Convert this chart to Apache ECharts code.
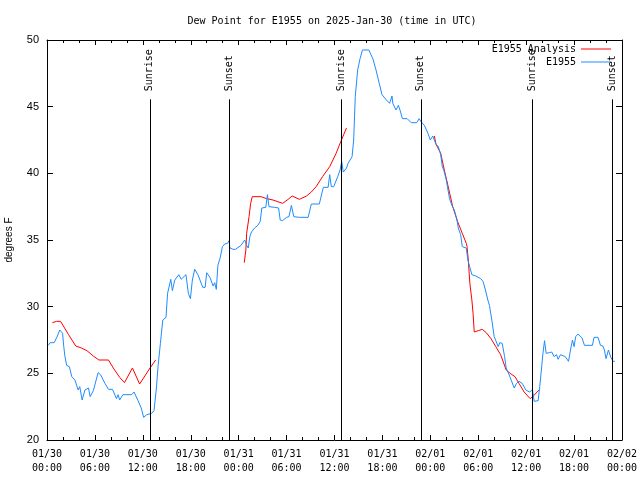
<!DOCTYPE html>
<html><head><meta charset="utf-8">
<script src="https://cdn.jsdelivr.net/npm/echarts@6/dist/echarts.min.js"></script>
<style>html,body{margin:0;padding:0;background:#fff}#c{width:640px;height:480px}</style>
</head><body><div id="c"></div>
<script>
const START = Date.UTC(2025, 0, 30, 0, 0);
const HOUR = 3600000;
const TITLE = 'Dew Point for E1955 on 2025-Jan-30 (time in UTC)';

// Observations (hours after 2025-01-30 00:00 UTC, dew point in F)
const obsHours = [0.15,0.4,0.6,0.9,1.3,1.6,1.95,2.1,2.25,2.46,2.8,3.1,3.5,3.9,4.1,4.4,4.75,5.2,5.4,5.8,6.4,6.7,7.25,7.7,8.2,8.7,8.9,9.1,9.5,10.6,10.9,11.4,11.8,12.1,12.5,13.1,13.4,13.7,13.9,14.2,14.5,14.9,15.1,15.5,15.7,16.0,16.5,16.8,17.4,17.7,17.96,18.2,18.5,18.9,19.5,19.8,20.0,20.4,20.8,21.0,21.2,21.4,21.7,21.96,22.25,22.6,22.8,22.9,23.3,23.6,24.3,24.75,25.0,25.2,25.4,25.6,26.0,26.4,26.7,26.9,27.4,27.6,27.8,28.5,29.0,29.2,29.5,30.0,30.3,30.6,30.9,31.6,32.7,33.1,34.1,34.6,35.2,35.4,35.6,35.9,36.4,36.7,36.9,37.1,37.3,37.5,37.7,37.9,38.2,38.4,38.6,38.9,39.2,39.5,40.3,40.8,41.2,41.6,41.95,42.5,42.9,43.2,43.3,43.7,44.0,44.2,44.5,45.1,45.6,46.3,46.6,46.8,47.25,47.7,48.0,48.3,48.5,48.7,49.0,49.3,49.5,49.7,50.0,50.4,50.7,51.0,51.3,51.5,51.8,52.0,52.5,52.7,52.9,53.2,53.7,54.3,54.6,54.9,55.2,55.4,55.7,56.0,56.2,56.5,56.7,57.0,57.3,57.5,57.7,57.96,58.2,58.5,58.8,59.1,59.5,59.96,60.4,60.8,61.0,61.2,61.5,61.7,61.96,62.1,62.3,62.5,62.9,63.2,63.5,63.8,64.0,64.3,64.5,64.9,65.3,65.6,65.8,66.0,66.2,66.5,66.75,67.0,67.3,68.3,68.5,69.0,69.3,69.6,69.8,70.0,70.3,70.6,70.9,71.1];
const obsDewF = [27.1,27.3,27.4,27.3,27.8,28.25,28.0,27.0,26.25,25.6,25.5,24.75,24.5,23.75,24.0,23.0,23.75,23.9,23.25,23.7,25.05,24.9,24.25,23.8,23.8,23.1,23.4,23.0,23.4,23.4,23.6,22.95,22.4,21.7,21.9,22.0,22.2,23.9,25.5,27.25,29.0,29.2,31.0,32.05,31.2,32.0,32.4,32.05,32.4,31.0,30.6,32.0,32.8,32.4,31.45,31.45,32.55,32.2,31.55,31.8,31.3,33.1,33.7,34.5,34.7,34.75,34.95,34.4,34.3,34.3,34.6,35.0,34.6,34.4,35.25,35.6,35.9,36.1,36.4,37.4,37.45,38.4,37.5,37.45,37.4,36.5,36.45,36.7,36.75,37.6,36.75,36.7,36.7,37.7,37.7,38.95,38.95,39.9,39.0,39.0,39.75,40.25,40.9,40.1,40.0,40.4,40.75,40.6,41.25,42.5,45.75,47.75,48.6,49.25,49.25,48.6,47.75,46.75,45.9,45.5,45.25,45.8,45.25,44.75,45.1,44.75,44.1,44.1,43.8,43.8,44.1,43.9,43.6,43.0,42.5,42.8,42.9,42.2,42.0,41.4,40.5,40.2,39.5,38.1,37.6,37.25,36.6,35.9,35.4,34.5,34.4,33.5,33.4,32.4,32.3,32.1,31.9,31.25,30.5,30.1,29.0,27.75,27.6,27.0,27.3,27.25,26.25,25.4,25.4,24.75,24.9,23.9,24.25,24.4,24.25,23.75,23.6,23.75,22.9,23.05,22.95,24.0,25.6,26.5,27.45,26.5,26.55,26.6,26.25,26.4,26.05,26.4,26.55,26.25,25.9,26.9,27.5,27.0,27.75,27.95,28.0,27.65,27.1,27.1,27.7,27.7,27.1,27.05,26.75,26.1,26.75,26.2,25.9,25.9];

// Analysis (null = gap between runs)
const anaHours = [0.67,1.2,1.7,2.7,3.6,4.3,5.0,5.8,6.5,7.7,8.3,9.1,9.7,10.7,11.6,12.9,13.6,  19,  24.7,24.9,25.0,25.3,25.5,25.7,26.8,27.5,28.3,29.5,30.2,30.7,31.6,32.5,33.1,33.7,34.5,35.4,36.2,36.8,37.5,  43,  48.5,48.7,49.3,49.75,50.2,50.8,51.4,52.0,52.5,52.6,52.75,52.95,53.2,53.35,53.5,54.0,54.5,55.0,55.6,56.2,56.8,57.5,58.1,58.6,59.1,59.75,60.5,60.9,61.6];
const anaDewF = [28.8,28.9,28.9,27.9,27.05,26.9,26.7,26.3,26.0,26.0,25.4,24.7,24.3,25.4,24.2,25.4,26.0,  null,  33.3,34.25,35.5,36.75,37.75,38.25,38.25,38.1,38.0,37.75,38.05,38.3,38.05,38.3,38.6,39.0,39.75,40.5,41.5,42.4,43.4,  null,  42.8,42.2,41.5,40.25,39.1,37.5,36.4,35.5,34.75,34.5,33.5,31.75,30.5,29.5,28.1,28.2,28.3,28.05,27.6,27.0,26.4,25.25,24.95,24.75,24.25,23.6,23.1,23.3,23.75];

const sunriseHours = [12.87, 36.85, 60.8];
const sunsetHours = [22.78, 46.8, 70.8];
const sunLineTop = 45.55;

const MONO = 'DejaVu Sans Mono';
const SANS = 'Liberation Sans';

function pad(n){ return (n < 10 ? '0' : '') + n; }
function fmtTime(v){
  const d = new Date(v);
  return pad(d.getUTCMonth() + 1) + '/' + pad(d.getUTCDate()) + '\n' + pad(d.getUTCHours()) + ':' + pad(d.getUTCMinutes());
}
const toPts = (hs, vs) => hs.map((h, i) => [START + h * HOUR, vs[i]]);

const sunLines = [];
sunriseHours.forEach(h => sunLines.push([{name: 'Sunrise', coord: [START + h * HOUR, 20]}, {coord: [START + h * HOUR, sunLineTop]}]));
sunsetHours.forEach(h => sunLines.push([{name: 'Sunset', coord: [START + h * HOUR, 20]}, {coord: [START + h * HOUR, sunLineTop]}]));

const xCommon = {
  type: 'value', min: START, max: START + 72 * HOUR, interval: 6 * HOUR,
  axisLine: {show: true, lineStyle: {color: '#000', width: 1}},
  axisTick: {show: true, inside: true, length: 5, lineStyle: {color: '#000'}},
  minorTick: {show: true, splitNumber: 3, length: 3, lineStyle: {color: '#000'}},
  splitLine: {show: false}
};
const yCommon = {
  type: 'value', min: 20, max: 50, interval: 5,
  axisLine: {show: true, lineStyle: {color: '#000', width: 1}},
  axisTick: {show: true, inside: true, length: 6, lineStyle: {color: '#000'}},
  splitLine: {show: false}
};

const chart = echarts.init(document.getElementById('c'), null, {renderer: 'canvas'});
chart.setOption({
  animation: false,
  backgroundColor: '#fff',
  title: {
    text: TITLE, left: 327, top: 11, textAlign: 'center',
    textStyle: {fontFamily: MONO, fontSize: 10, fontWeight: 'normal', color: '#000'}
  },
  legend: {
    orient: 'vertical', right: 29, top: 43, padding: 0, itemGap: 1,
    align: 'right', itemWidth: 30, itemHeight: 1, icon: 'rect',
    textStyle: {fontFamily: MONO, fontSize: 10, color: '#000', lineHeight: 12},
    data: ['E1955 Analysis', 'E1955']
  },
  grid: {left: 47, right: 18, top: 40, bottom: 40, containLabel: false, outerBoundsMode: 'none'},
  xAxis: [
    Object.assign({}, xCommon, {
      position: 'bottom',
      axisLabel: {formatter: fmtTime, fontFamily: MONO, fontSize: 10, color: '#000', lineHeight: 14, margin: 7}
    }),
    Object.assign({}, xCommon, {position: 'top', axisLabel: {show: false}})
  ],
  yAxis: [
    Object.assign({}, yCommon, {
      position: 'left',
      name: 'degrees F', nameLocation: 'middle', nameGap: 33, nameRotate: 90,
      nameTextStyle: {fontFamily: SANS, fontSize: 10, color: '#000'},
      axisLabel: {fontFamily: SANS, fontSize: 11, color: '#000', margin: 8}
    }),
    Object.assign({}, yCommon, {position: 'right', axisLabel: {show: false}})
  ],
  series: [
    {
      name: 'E1955 Analysis', type: 'line', symbol: 'none', connectNulls: false,
      lineStyle: {color: '#ff0000', width: 1}, itemStyle: {color: '#ff0000'},
      data: toPts(anaHours, anaDewF),
      markLine: {
        silent: true, symbol: ['none', 'none'], animation: false,
        lineStyle: {color: '#000', width: 1, type: 'solid'},
        label: {
          show: true, position: 'end', rotate: 90, align: 'left', verticalAlign: 'middle', distance: 7,
          offset: [1, 0],
          formatter: p => p.name, fontFamily: MONO, fontSize: 10, color: '#000'
        },
        emphasis: {disabled: true},
        data: sunLines
      }
    },
    {
      name: 'E1955', type: 'line', symbol: 'none',
      lineStyle: {color: '#1e8cff', width: 1}, itemStyle: {color: '#1e8cff'},
      data: toPts(obsHours, obsDewF)
    }
  ]
});
</script></body></html>
